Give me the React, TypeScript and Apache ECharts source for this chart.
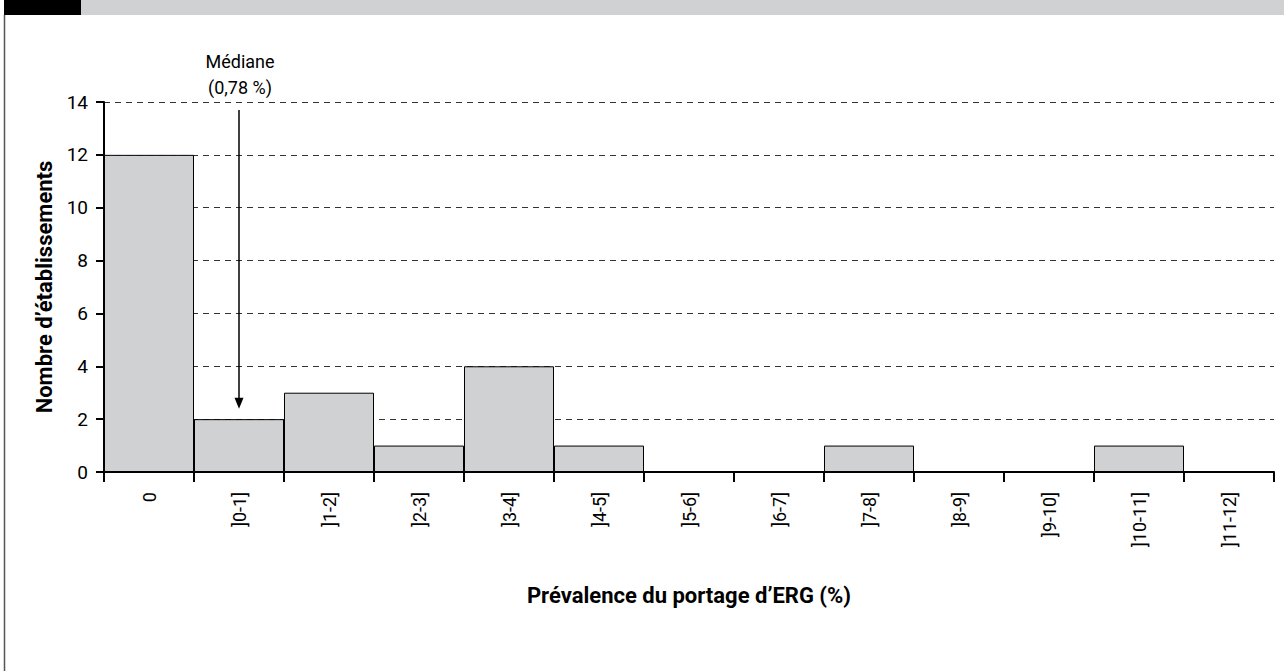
import React, { useEffect, useRef } from "react";
import * as echarts from "echarts";

const categories = ["0", "]0-1]", "]1-2]", "]2-3]", "]3-4]", "]4-5]", "]5-6]", "]6-7]", "]7-8]", "]8-9]", "]9-10]", "]10-11]", "]11-12]"];
const counts = [12, 2, 3, 1, 4, 1, 0, 0, 1, 0, 0, 1, 0];
const medianCategory = "]0-1]";
const medianLabel = ["Médiane", "(0,78 %)"];
const arrowFrom = 13.7;
const arrowTo = 2.6;
const yAxisName = "Nombre d’établissements";
const xAxisName = "Prévalence du portage d’ERG (%)";

const FONT = "Roboto, 'Open Sans', sans-serif";

export default function App() {
  const ref = useRef<HTMLDivElement>(null);
  useEffect(() => {
    if (!ref.current) return;
    const chart = echarts.init(ref.current, undefined, { renderer: "svg" });
    chart.setOption({
      animation: false,
      backgroundColor: "#ffffff",
      grid: { left: 104, right: 10, top: 102, bottom: 199, containLabel: false },
      xAxis: {
        type: "category",
        data: categories,
        name: xAxisName,
        nameLocation: "middle",
        nameGap: 112,
        nameTextStyle: { fontFamily: FONT, fontSize: 22, fontWeight: "bold", color: "#000" },
        axisLine: { lineStyle: { color: "#000", width: 2 } },
        axisTick: { show: true, length: 10, lineStyle: { color: "#000", width: 2 } },
        axisLabel: { rotate: 90, margin: 20, fontFamily: FONT, fontSize: 18, color: "#000" },
        splitLine: { show: false },
      },
      yAxis: {
        type: "value",
        min: 0,
        max: 14,
        interval: 2,
        name: yAxisName,
        nameLocation: "middle",
        nameGap: 37,
        nameTextStyle: { fontFamily: FONT, fontSize: 22, fontWeight: "bold", color: "#000" },
        axisLine: { show: true, lineStyle: { color: "#000", width: 2 } },
        axisTick: { show: true, length: 8, lineStyle: { color: "#000", width: 2 } },
        axisLabel: { margin: 16, fontFamily: FONT, fontSize: 19, color: "#000" },
        splitLine: { show: true, lineStyle: { color: "#333", type: [6, 5], width: 1 } },
      },
      series: [
        {
          type: "bar",
          data: counts,
          barCategoryGap: "0%",
          itemStyle: { color: "#d0d1d3", borderColor: "#000", borderWidth: 1 },
          markLine: {
            silent: true,
            symbol: ["none", "triangle"],
            symbolSize: [9, 11],
            lineStyle: { color: "#000", width: 1.5, type: "solid" },
            label: { show: false },
            data: [
              [
                { coord: [medianCategory, arrowFrom], symbol: "none" },
                { coord: [medianCategory, arrowTo], symbol: "triangle", symbolRotate: 180 },
              ],
            ],
          },
        },
      ],
    });
    const p = chart.convertToPixel({ xAxisIndex: 0, yAxisIndex: 0 }, [medianCategory, 14]) as number[];
    chart.setOption({
      graphic: [
        { type: "rect", shape: { x: 4, y: 0, width: 77, height: 15 }, style: { fill: "#000" } },
        { type: "rect", shape: { x: 81, y: 0, width: 1203, height: 15 }, style: { fill: "#d0d1d3" } },
        { type: "line", shape: { x1: 4.5, y1: 15, x2: 4.5, y2: 671 }, style: { stroke: "#555", lineWidth: 1.5 } },
        {
          type: "text",
          x: p[0] + 1,
          y: p[1] - 41,
          style: { text: medianLabel[0], fontFamily: FONT, fontSize: 18, fill: "#000", align: "center", verticalAlign: "middle" },
        },
        {
          type: "text",
          x: p[0] + 1,
          y: p[1] - 15,
          style: { text: medianLabel[1], fontFamily: FONT, fontSize: 18, fill: "#000", align: "center", verticalAlign: "middle" },
        },
      ],
    });
    return () => chart.dispose();
  }, []);
  return <div ref={ref} style={{ position: "absolute", left: 0, top: 0, width: 1284, height: 671 }} />;
}
